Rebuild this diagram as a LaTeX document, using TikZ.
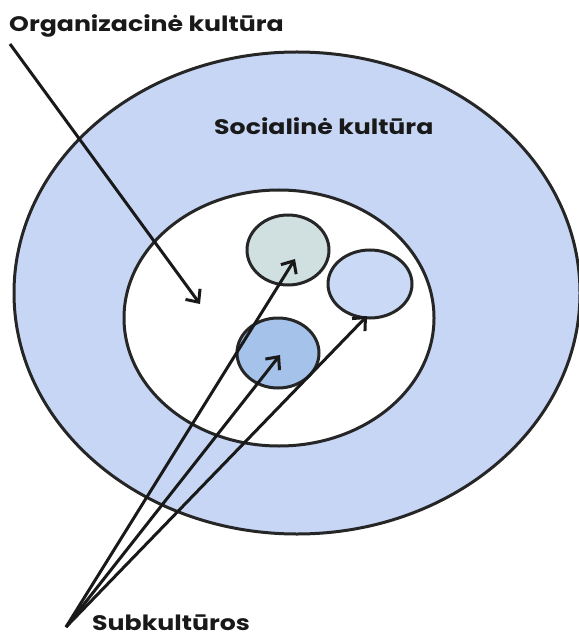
\documentclass[tikz,border=0pt]{standalone}
\usepackage{fontspec}
\setsansfont{Poppins}
\newfontfamily\labelfont{Poppins}[FakeStretch=1.2]
\usetikzlibrary{arrows.meta, shapes.geometric}
\definecolor{ring}{RGB}{198,214,244}
\definecolor{mint}{RGB}{208,224,224}
\definecolor{pale}{RGB}{202,217,245}
\definecolor{midblue}{RGB}{164,194,234}

\begin{document}
\begin{tikzpicture}[x=1pt, y=-1pt, font=\sffamily\bfseries,
  >={Straight Barb[length=10pt, width=18pt]},
  blob/.style={ellipse, draw=black!85, line width=3pt, inner sep=0pt},
  lbl/.style={anchor=base west, inner sep=0pt, text=black!90,
    font=\labelfont\bfseries\fontsize{21}{25}\selectfont},
  pointer/.style={->, line width=3pt, black!90}]
\useasboundingbox (0,0) rectangle (578,636);

% ---- nested cultures ----
\node[blob, fill=ring, minimum width=566pt, minimum height=482pt] (social) at (297,293) {};
\node[blob, fill=white, minimum width=310pt, minimum height=256pt] (org) at (279,318) {};

% ---- subcultures ----
\node[blob, fill=mint, minimum width=82pt, minimum height=70pt] (sub1) at (288,250) {};
\node[blob, fill=pale, minimum width=84pt, minimum height=68pt] (sub2) at (370,284) {};
\node[blob, fill=midblue, minimum width=82pt, minimum height=70pt] (sub3) at (278,353) {};

% ---- labels ----
\node[lbl] (orglbl) at (9,32) {Organizacinė kultūra};
\node[lbl] (sociallbl) at (214,135) {Socialinė kultūra};
\node[lbl] (sublbl) at (92,630) {Subkultūros};

% ---- arrow ends ----
\coordinate (orgtail) at (10,44);
\coordinate (orgtip) at (200,304);
\coordinate (subtail) at (66,627);
\coordinate (tip1) at (295,259);
\coordinate (tip2) at (280,355);
\coordinate (tip3) at (367,316);

% ---- arrows ----
\draw[pointer] (orgtail) -- (orgtip);
\foreach \t in {tip1,tip2,tip3}{
  \draw[pointer] (subtail) -- (\t);
}
\end{tikzpicture}
\end{document}
